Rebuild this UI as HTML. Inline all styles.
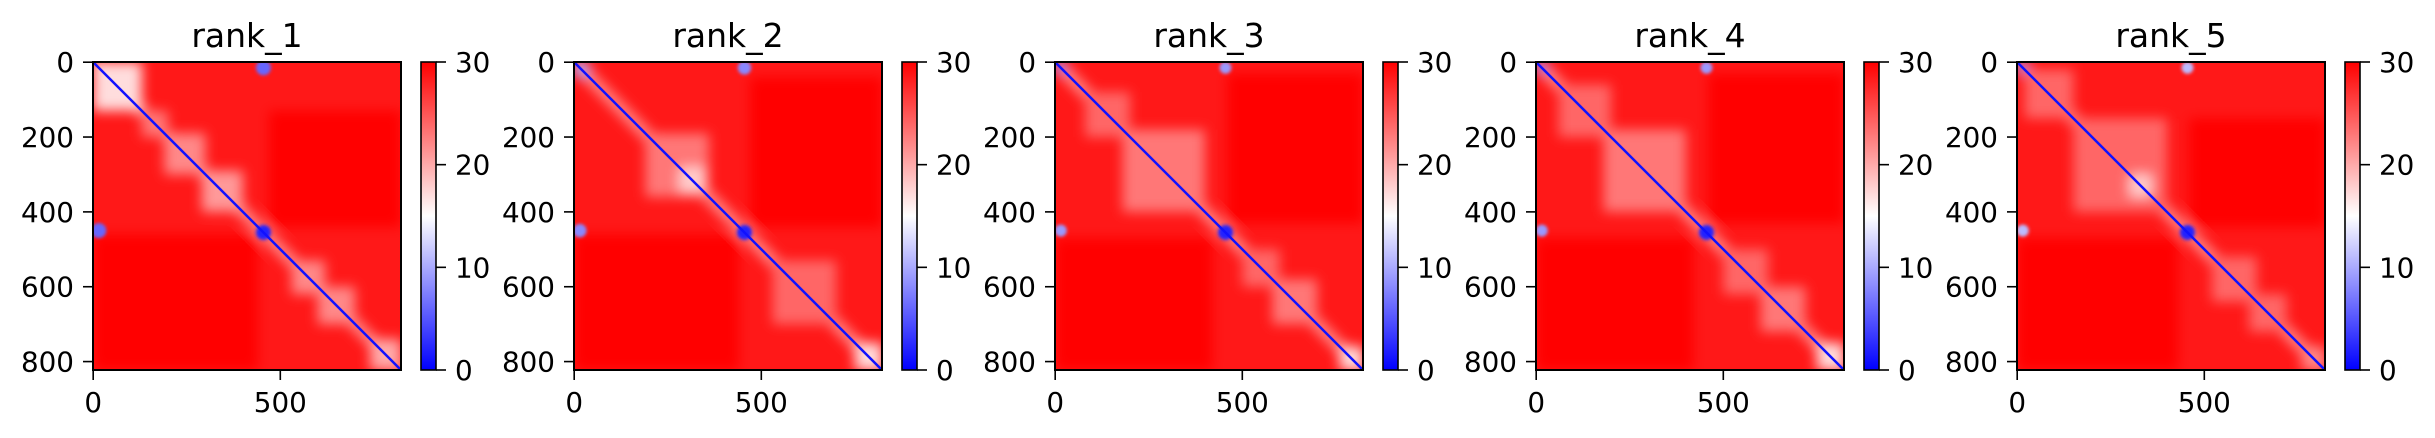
<!DOCTYPE html>
<html><head><meta charset="utf-8"><style>
html,body{margin:0;padding:0;background:#fff;}
svg{display:block;font-family:"DejaVu Sans","Liberation Sans",sans-serif;}
</style></head><body>
<svg id="fig" width="2435" height="438" viewBox="0 0 2435 438" xmlns="http://www.w3.org/2000/svg">
<defs>
<linearGradient id="bwr" x1="0" y1="1" x2="0" y2="0">
<stop offset="0" stop-color="#0000ff"/><stop offset="0.5" stop-color="#ffffff"/><stop offset="1" stop-color="#ff0000"/>
</linearGradient>
<filter id="blur" x="-10%" y="-10%" width="120%" height="120%"><feGaussianBlur stdDeviation="6"/></filter>
<filter id="blur2" x="-10%" y="-10%" width="120%" height="120%"><feGaussianBlur stdDeviation="1.5"/></filter>
</defs>
</svg>
<script>
const titles = ["rank_1","rank_2","rank_3","rank_4","rank_5"];
const nRes = 823;
const vmax = 30;
const bgValue = 28.6;
const xTicks = [0, 500];
const yTicks = [0, 200, 400, 600, 800];
const cbTicks = [0, 10, 20, 30];
// diagonal domains: [start, end, pae]
const domains1 = [[0,130,17],[130,200,23],[190,300,22],[290,400,21],[530,620,22],[600,700,22],[740,823,20]];
const domains2 = [[0,40,10],[190,360,23],[280,350,18],[530,700,24],[750,823,17]];
const domains3 = [[0,30,8],[80,200,24],[180,400,23],[500,600,24],[580,700,23],[760,823,17]];
const domains4 = [[0,30,8],[60,200,24],[180,400,23],[500,620,24],[600,720,23],[750,823,17]];
const domains5 = [[0,30,8],[20,150,24],[150,400,24],[300,360,18],[520,640,24],[620,720,24],[760,823,22]];
// blobs: [row, col, radius, pae]
const blobs1 = [[15,455,20,6],[450,15,20,6],[455,455,20,2]];
const blobs2 = [[15,455,18,8],[450,15,18,8],[455,455,20,2]];
const blobs3 = [[15,455,16,9],[450,15,16,9],[455,455,20,2]];
const blobs4 = [[15,455,16,9],[450,15,16,9],[455,455,20,2]];
const blobs5 = [[15,455,16,11],[450,15,16,11],[455,455,20,2]];
// saturated (pae=30) regions: [row0,row1,col0,col1]
const solid1 = [[460,823,0,440],[130,440,470,823]];
const solid2 = [[460,823,0,440],[40,440,470,823]];
const solid3 = [[470,823,0,420],[30,430,460,823]];
const solid4 = [[470,823,0,420],[30,430,460,823]];
const solid5 = [[470,823,0,430],[150,440,460,823]];
const allDomains=[domains1,domains2,domains3,domains4,domains5];
const allBlobs=[blobs1,blobs2,blobs3,blobs4,blobs5];
const allSolid=[solid1,solid2,solid3,solid4,solid5];

const NS="http://www.w3.org/2000/svg";
const svg=document.getElementById('fig');
const TOP=62, SIZE=308, LEFT0=93, STEP=481;
function cmap(v){
  let t=Math.max(0,Math.min(1,v/vmax));
  let r,g,b;
  if(t<0.5){const u=t/0.5;r=Math.round(255*u);g=r;b=255;}
  else{const u=(t-0.5)/0.5;r=255;g=Math.round(255*(1-u));b=g;}
  return `rgb(${r},${g},${b})`;
}
function el(tag,attrs,parent){const e=document.createElementNS(NS,tag);for(const k in attrs)e.setAttribute(k,attrs[k]);(parent||svg).appendChild(e);return e;}
titles.forEach((title,i)=>{
  const L=LEFT0+STEP*i;
  const sc=v=>(v+0.5)/nRes*SIZE;
  const g=el('g',{});
  
  
  const cp=el('clipPath',{id:'cp'+i},g);
  el('rect',{x:L,y:TOP,width:SIZE,height:SIZE},cp);
  const hm=el('g',{'clip-path':`url(#cp${i})`},g);
  
  
  const bg=el('rect',{x:L,y:TOP,width:SIZE,height:SIZE,fill:cmap(bgValue)},hm);
  
  
  const bl=el('g',{filter:'url(#blur)'},hm);
  allSolid[i].forEach(s=>{
    const r=el('rect',{x:L+sc(s[2]),y:TOP+sc(s[0]),width:sc(s[3])-sc(s[2]),height:sc(s[1])-sc(s[0]),fill:cmap(30)},bl);
    
    
  });
  const halo=el('line',{x1:L,y1:TOP,x2:L+SIZE,y2:TOP+SIZE,stroke:cmap(22),'stroke-width':12},bl);
  
  
  allDomains[i].forEach(d=>{
    const r=el('rect',{x:L+sc(d[0]),y:TOP+sc(d[0]),width:sc(d[1])-sc(d[0]),height:sc(d[1])-sc(d[0]),fill:cmap(d[2])},bl);
    
    
  });
  const bl2=el('g',{filter:'url(#blur2)'},hm);
  allBlobs[i].forEach(b=>{
    const c=el('circle',{cx:L+sc(b[1]),cy:TOP+sc(b[0]),r:b[2]/nRes*SIZE,fill:cmap(b[3])},bl2);
    
    
  });
  const diag=el('line',{x1:L,y1:TOP,x2:L+SIZE,y2:TOP+SIZE,stroke:cmap(1),'stroke-width':2.5},hm);
  
  
  const fr=el('rect',{x:L,y:TOP,width:SIZE,height:SIZE,fill:'none',stroke:'#000','stroke-width':2},g);
  
  
  const t=el('text',{x:L+SIZE/2,y:47,'text-anchor':'middle','font-size':33,fill:'#000'},g);
  t.textContent=title;
  
  
  xTicks.forEach(v=>{
    const x=L+sc(v);
    el('line',{x1:x,y1:TOP+SIZE,x2:x,y2:TOP+SIZE+10,stroke:'#000','stroke-width':1.6},g);
    const tx=el('text',{x:x,y:412,'text-anchor':'middle','font-size':27.8,fill:'#000'},g);
    tx.textContent=v;
    
    
  });
  yTicks.forEach(v=>{
    const y=TOP+sc(v);
    el('line',{x1:L-10,y1:y,x2:L,y2:y,stroke:'#000','stroke-width':1.6},g);
    const ty=el('text',{x:L-19,y:y+10,'text-anchor':'end','font-size':27.8,fill:'#000'},g);
    ty.textContent=v;
    
    
  });
  const CX=L+328, CW=15;
  const cb=el('rect',{x:CX,y:TOP,width:CW,height:SIZE,fill:'url(#bwr)',stroke:'#000','stroke-width':1.6},g);
  
  
  cbTicks.forEach(v=>{
    const y=TOP+SIZE-v/vmax*SIZE;
    el('line',{x1:CX+CW,y1:y,x2:CX+CW+10,y2:y,stroke:'#000','stroke-width':1.6},g);
    const tc=el('text',{x:CX+CW+19,y:y+10,'text-anchor':'start','font-size':27.8,fill:'#000'},g);
    tc.textContent=v;
    
    
  });
});
</script>
</body></html>
